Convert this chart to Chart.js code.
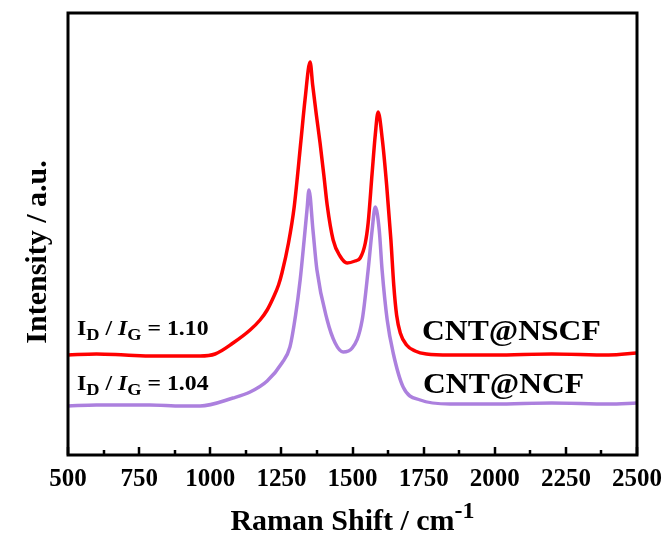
<!DOCTYPE html>
<html>
<head>
<meta charset="utf-8">
<script src="https://cdn.jsdelivr.net/npm/chart.js@4.4.1/dist/chart.umd.min.js"></script>
<style>
html,body{margin:0;padding:0;background:#fff;}
#wrap{width:667px;height:538px;}
</style>
</head>
<body>
<div id="wrap"><canvas id="raman" width="667" height="538"></canvas></div>
<script>
// values (intensity in arbitrary units)
const nscfShift=[500,600,700,800,900,964,1017,1080,1140,1175,1200,1221,1240,1252,1275,1295,1319,1333,1351,1360,1373,1386,1400,1411,1432,1456,1481,1509,1527,1545,1555,1569,1580,1590,1605,1620,1635,1645,1655,1668,1690,1720,1760,1843,2000,2200,2400,2500];
const nscfIntensity=[100,101,100,99,99,99,101,112,125,135,145,157,170,182,212,248,315,355,393,370,340,312,278,250,215,199,192,194,197,212,232,282,320,343,315,270,215,170,140,122,110,104,101,100,100,101,100,102];

const ncfShift=[500,600,788,900,964,1080,1140,1200,1252,1280,1300,1316,1330,1340,1347,1361,1375,1411,1439,1467,1499,1534,1555,1569,1580,1594,1604,1622,1643,1678,1738,1843,2000,2200,2400,2500];
const ncfIntensity=[49,50,50,49,49,57,63,74,92,108,140,175,215,245,265,225,185,135,112,103,107,135,185,225,248,225,185,135,102,68,55,51,51,52,51,52];

const xTicks=[500,750,1000,1250,1500,1750,2000,2250,2500];
const ratioNSCF="1.10";
const ratioNCF="1.04";

const serif='"Liberation Serif","Times New Roman",serif';

function pts(xs,ys){return xs.map((x,i)=>({x:x,y:ys[i]}));}

// draw text pieces one after another, stretched a bit sideways
function runs(ctx,x,y,parts,sx){
ctx.save();
ctx.translate(x,y);
ctx.scale(sx||1,1);
let cx=0;
parts.forEach(p=>{
ctx.font=p.f;
ctx.fillText(p.t,cx,p.dy||0);
cx+=ctx.measureText(p.t).width;
});
ctx.restore();
}
function runsWidth(ctx,parts){
let w=0;
parts.forEach(p=>{ctx.font=p.f;w+=ctx.measureText(p.t).width;});
return w;
}

const decor={
id:"decor",
afterDraw(chart){
const ctx=chart.ctx;
const a=chart.chartArea;
const xs=chart.scales.x;
ctx.save();
// ticks pointing inward
ctx.strokeStyle="#000";
ctx.lineWidth=2.5;
for(let v=500;v<=2500;v+=125){
const px=Math.round(xs.getPixelForValue(v));
const len=(v%250===0)?8:5;
ctx.beginPath();
ctx.moveTo(px,a.bottom);
ctx.lineTo(px,a.bottom-len);
ctx.stroke();
}
// frame
ctx.lineWidth=3;
ctx.strokeRect(a.left,a.top,a.right-a.left,a.bottom-a.top);

ctx.fillStyle="#000";
ctx.textBaseline="alphabetic";
ctx.textAlign="left";
// ratio labels
const b="bold 22px "+serif, bi="italic bold 22px "+serif, sb="bold 17px "+serif;
runs(ctx,77,335,[{t:"I",f:b},{t:"D",f:sb,dy:5},{t:" / ",f:b},{t:"I",f:bi},{t:"G",f:sb,dy:5},{t:" = "+ratioNSCF,f:b}],1.08);
runs(ctx,77,390,[{t:"I",f:b},{t:"D",f:sb,dy:5},{t:" / ",f:b},{t:"I",f:bi},{t:"G",f:sb,dy:5},{t:" = "+ratioNCF,f:b}],1.08);
// sample names
runs(ctx,422,340,[{t:"CNT@NSCF",f:"bold 29px "+serif}],1.09);
runs(ctx,423,393,[{t:"CNT@NCF",f:"bold 29px "+serif}],1.09);

// x title with superscript
const tparts=[{t:"Raman Shift / cm",f:"bold 30px "+serif},{t:"-1",f:"bold 24px "+serif,dy:-12}];
const tw=runsWidth(ctx,tparts);
runs(ctx,(a.left+a.right)/2-tw/2,530,tparts);

// y title
ctx.translate(38,252);
ctx.rotate(-Math.PI/2);
ctx.textAlign="center";
ctx.textBaseline="middle";
ctx.font="bold 30px "+serif;
ctx.fillText("Intensity / a.u.",0,0);
ctx.restore();
}
};

new Chart(document.getElementById("raman"),{
type:"line",
data:{
datasets:[
{label:"CNT@NSCF",data:pts(nscfShift,nscfIntensity),borderColor:"#ff0000",borderWidth:3.5,pointRadius:0,cubicInterpolationMode:"monotone",fill:false},
{label:"CNT@NCF",data:pts(ncfShift,ncfIntensity),borderColor:"#ac80de",borderWidth:3.5,pointRadius:0,cubicInterpolationMode:"monotone",fill:false}
]
},
options:{
responsive:false,
animation:false,
layout:{padding:{top:13,right:30,left:0,bottom:0}},
plugins:{legend:{display:false},tooltip:{enabled:false}},
scales:{
x:{
type:"linear",min:500,max:2500,
afterFit(s){s.height=83;s.paddingRight=0;},
afterBuildTicks(s){s.ticks=xTicks.map(v=>({value:v}));},
grid:{display:false,drawTicks:false},
border:{display:false},
ticks:{color:"#000",padding:10,maxRotation:0,autoSkip:false,callback:v=>String(v),font:{family:serif,size:25,weight:"bold"}}
},
y:{
min:0,max:442,
afterFit(s){s.width=68;},
grid:{display:false,drawTicks:false},
border:{display:false},
ticks:{display:false}
}
}
},
plugins:[decor]
});
</script>
</body>
</html>
